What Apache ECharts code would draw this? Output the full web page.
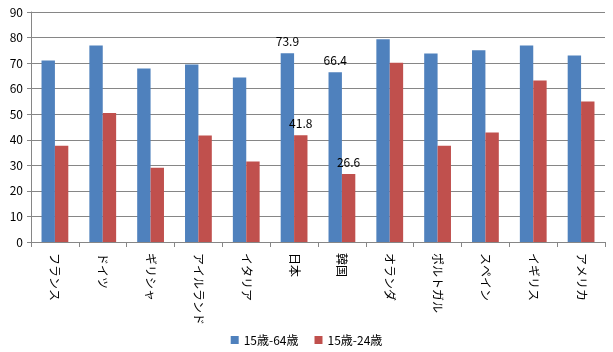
<!DOCTYPE html>
<html>
<head>
<meta charset="utf-8">
<script src="https://cdn.jsdelivr.net/npm/echarts@6/dist/echarts.min.js"></script>
<style>
  html, body { margin: 0; padding: 0; background: #fff; }
  #chart { width: 613px; height: 352px; }
</style>
</head>
<body>
<div id="chart"></div>
<script>
var countries = ["フランス", "ドイツ", "ギリシャ", "アイルランド", "イタリア", "日本", "韓国", "オランダ", "ポルトガル", "スペイン", "イギリス", "アメリカ"];
var age15to64 = [71.0, 76.9, 67.9, 69.5, 64.4, 73.9, 66.4, 79.3, 73.8, 75.0, 76.9, 73.0];
var age15to24 = [37.7, 50.5, 29.1, 41.7, 31.5, 41.8, 26.6, 70.1, 37.7, 42.8, 63.2, 55.0];
// only Japan and Korea carry value labels
var labelled = ["日本", "韓国"];

var font = "'Noto Sans CJK JP', 'DejaVu Sans', sans-serif";

function withLabels(values) {
  return values.map(function (v, i) {
    if (labelled.indexOf(countries[i]) < 0) return v;
    return {
      value: v,
      label: { show: true, position: "top", distance: 6, color: "#000", fontSize: 12, fontFamily: font }
    };
  });
}

var chart = echarts.init(document.getElementById("chart"));
chart.setOption({
  animation: false,
  textStyle: { fontFamily: font },
  grid: { left: 31, right: 8, top: 12, bottom: 110 },
  legend: {
    bottom: 1,
    left: "center",
    itemWidth: 8,
    itemHeight: 8,
    itemGap: 16,
    icon: "rect",
    textStyle: { fontSize: 12, color: "#000", fontFamily: font },
    data: ["15歳-64歳", "15歳-24歳"]
  },
  xAxis: {
    type: "category",
    data: countries,
    axisLine: { lineStyle: { color: "#868686" } },
    axisTick: { show: true, length: 5, lineStyle: { color: "#868686" } },
    axisLabel: { rotate: -90, color: "#000", fontSize: 12, margin: 11, interval: 0 }
  },
  yAxis: {
    type: "value",
    min: 0,
    max: 90,
    interval: 10,
    axisLine: { show: true, lineStyle: { color: "#868686" } },
    axisTick: { show: true, length: 4, lineStyle: { color: "#868686" } },
    axisLabel: { color: "#000", fontSize: 12, margin: 8 },
    splitLine: { lineStyle: { color: "#868686" } }
  },
  series: [
    {
      name: "15歳-64歳",
      type: "bar",
      data: withLabels(age15to64),
      itemStyle: { color: "#4F81BD" },
      barGap: "0%",
      barCategoryGap: "44%"
    },
    {
      name: "15歳-24歳",
      type: "bar",
      data: withLabels(age15to24),
      itemStyle: { color: "#C0504D" },
      barGap: "0%",
      barCategoryGap: "44%"
    }
  ]
});
</script>
</body>
</html>
